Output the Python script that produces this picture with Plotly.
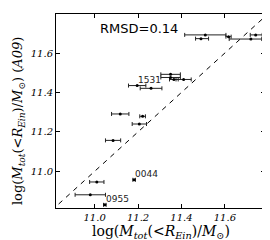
import plotly.graph_objects as go

# data: x = log M (this work), y = log M (A09)
x_vals = [11.51, 11.49, 11.617, 11.72, 11.742, 11.35, 11.35, 11.41, 11.365,
          11.196, 11.26, 11.118, 11.221, 11.206, 11.085, 11.01, 10.98, 11.047, 11.182]
y_vals = [11.692, 11.673, 11.683, 11.671, 11.692, 11.492, 11.476, 11.466, 11.466,
          11.435, 11.421, 11.291, 11.279, 11.240, 11.157, 10.946, 10.881, 10.830, 10.957]
x_err_plus = [0.095, 0.035, 0.012, 0.05, 0.03, 0.045, 0.045, 0.035, 0.02,
              0.04, 0.05, 0.04, 0.013, 0.033, 0.035, 0.033, 0.07, 0.006, 0.006]
x_err_minus = [0.095, 0.025, 0.012, 0.10, 0.025, 0.045, 0.045, 0.035, 0.02,
               0.04, 0.05, 0.04, 0.013, 0.033, 0.035, 0.033, 0.07, 0.006, 0.006]

label_names = ["1531", "0044", "0955"]
label_x = [11.196, 11.182, 11.047]
label_y = [11.435, 10.957, 10.830]

one_to_one = [10.8, 11.8]
x_ticks = [11.0, 11.2, 11.4, 11.6]
y_ticks = [11.0, 11.2, 11.4, 11.6]

fig = go.Figure()
fig.add_trace(go.Scatter(x=one_to_one, y=one_to_one, mode="lines",
                         line=dict(color="black", width=1, dash="5px,5px"),
                         hoverinfo="skip", showlegend=False))
fig.add_trace(go.Scatter(
    x=x_vals, y=y_vals, mode="markers",
    marker=dict(color="black", size=3),
    error_x=dict(type="data", symmetric=False, array=x_err_plus,
                 arrayminus=x_err_minus, color="#222", thickness=1, width=2),
    showlegend=False))

for n, lx, ly in zip(label_names, label_x, label_y):
    fig.add_annotation(x=lx, y=ly, text=n, showarrow=False, xanchor="left",
                       yanchor="bottom", font=dict(family="DejaVu Sans", size=9, color="#222"),
                       xshift=-1, yshift=-1)

fig.add_annotation(x=0.2, y=0.924, xref="paper", yref="paper", text="RMSD=0.14",
                   showarrow=False, xanchor="left", yanchor="middle",
                   font=dict(family="DejaVu Sans", size=13, color="black"))

xtitle = "log(<i>M</i><sub><i>tot</i></sub>(&lt;<i>R</i><sub><i>Ein</i></sub>)/<i>M</i><sub>⊙</sub>)"
ytitle = xtitle + " (<i>A09</i>)"
fig.add_annotation(x=0.5, y=-0.124, xref="paper", yref="paper", text=xtitle,
                   showarrow=False, xanchor="center", yanchor="middle",
                   font=dict(family="DejaVu Serif", size=14, color="black"))
fig.add_annotation(x=-0.182, y=0.448, xref="paper", yref="paper", text=ytitle,
                   showarrow=False, xanchor="center", yanchor="middle", textangle=-90,
                   font=dict(family="DejaVu Serif", size=13, color="black"))

axis_common = dict(showgrid=False, zeroline=False, showline=True, linecolor="black",
                   linewidth=1, mirror="allticks", ticks="inside", ticklen=4,
                   tickcolor="black", tickwidth=1,
                   tickfont=dict(family="DejaVu Serif", size=10, style="italic", color="black"))
fig.update_xaxes(range=[10.822, 11.785], tickvals=x_ticks,
                 ticktext=[f"{v:.1f}" for v in x_ticks], **axis_common)
fig.update_yaxes(range=[10.814, 11.798], tickvals=y_ticks,
                 ticktext=[f"{v:.1f}" for v in y_ticks], **axis_common)

fig.update_layout(width=270, height=240, margin=dict(l=48, r=13, t=6, b=40),
                  paper_bgcolor="white", plot_bgcolor="white")
fig.write_html("out.html")
